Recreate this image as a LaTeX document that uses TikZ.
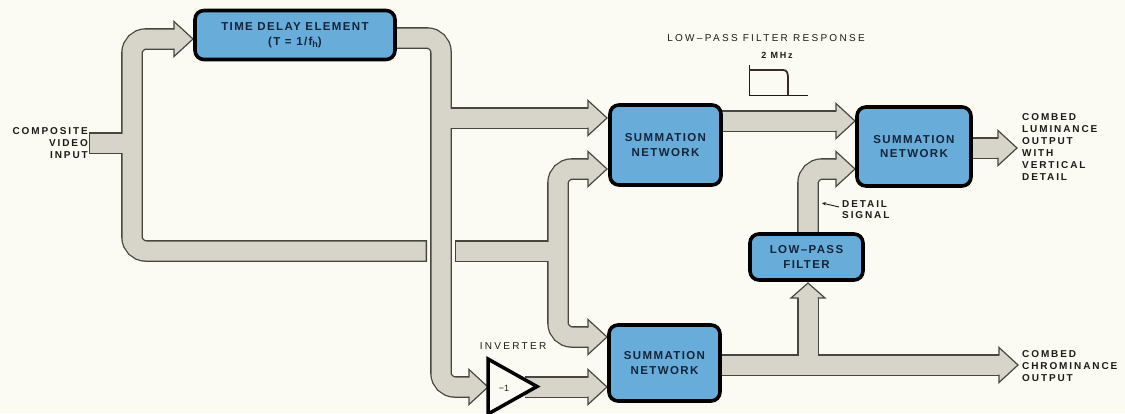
\documentclass[tikz,border=0pt]{standalone}
\usepackage{fontspec}
\setmainfont{Liberation Sans}
\newfontfamily\boxfont[LetterSpace=12]{Liberation Sans}
\newfontfamily\lblfont[LetterSpace=19]{Liberation Sans}
\newfontfamily\thinfont[LetterSpace=23]{Liberation Sans}
\usetikzlibrary{calc,arrows.meta}
\definecolor{bg}{HTML}{FBFBF3}
\definecolor{pipegray}{HTML}{D7D5CA}
\definecolor{pipeline}{HTML}{48473F}
\definecolor{boxblue}{HTML}{68ACDA}
\definecolor{boxtext}{HTML}{14243A}
\definecolor{ink}{HTML}{1E1A18}
\definecolor{resp}{HTML}{3A2A22}
\tikzset{
  pipeo/.style={draw=pipeline, line width=21.6pt, rounded corners=14pt, line cap=butt},
  pipei/.style={draw=pipegray, line width=19pt, rounded corners=14pt, line cap=butt},
  pipeedge/.style={draw=pipeline, line width=1.2pt, line join=miter},
  blockbox/.style={draw=black, line width=3.6pt, fill=boxblue, rounded corners=9pt,
    inner sep=0pt, align=center, text=boxtext,
    font=\boxfont\bfseries\fontsize{11.5}{14.5}\selectfont},
  lbl/.style={inner sep=0pt, text=ink, font=\lblfont\bfseries\fontsize{10}{12}\selectfont},
  lblthin/.style={inner sep=0pt, text=ink, font=\thinfont\fontsize{10}{12}\selectfont},
}
\newcommand\PipeHeadR[1]{%
  \fill[pipegray] ($(#1)+(-19,-17.5)$) -- (#1) -- ($(#1)+(-19,17.5)$) -- cycle;
  \draw[pipeedge] ($(#1)+(-19,-9.5)$) -- ($(#1)+(-19,-17.5)$) -- (#1) -- ($(#1)+(-19,17.5)$) -- ($(#1)+(-19,9.5)$);}
\newcommand\PipeHeadU[1]{%
  \fill[pipegray] ($(#1)+(-17,15)$) -- (#1) -- ($(#1)+(17,15)$) -- cycle;
  \draw[pipeedge] ($(#1)+(-9.5,15)$) -- ($(#1)+(-17,15)$) -- (#1) -- ($(#1)+(17,15)$) -- ($(#1)+(9.5,15)$);}
\begin{document}
\begin{tikzpicture}[x=1pt,y=-1pt]
\useasboundingbox (0,0) rectangle (1125,413);
\fill[bg] (0,0) rectangle (1125,413);

% ---- coordinates ----
\coordinate (inStub) at (89,143);
\coordinate (stubJ) at (132,143);
\coordinate (tdIn) at (193,39);
\coordinate (trunkTop) at (132,39);
\coordinate (trunkBot) at (132,251);
\coordinate (busGapL) at (427,251);
\coordinate (busGapR) at (455,251);
\coordinate (busJ) at (558,251);
\coordinate (tdOut) at (390,38);
\coordinate (p2Top) at (441,38);
\coordinate (p2Br) at (441,118);
\coordinate (p2Bot) at (441,387);
\coordinate (invIn) at (488,387);
\coordinate (invOut) at (525,387);
\coordinate (sn1InA) at (607,118);
\coordinate (sn1InB) at (607,169);
\coordinate (p4Top) at (558,169);
\coordinate (p4Bot) at (558,337);
\coordinate (sn2InA) at (607,337);
\coordinate (sn2InB) at (607,387);
\coordinate (sn1Out) at (715,121);
\coordinate (sn3InA) at (855,121);
\coordinate (sn2Out) at (715,365);
\coordinate (lpfJ) at (808,365);
\coordinate (lpfIn) at (808,283);
\coordinate (chrOut) at (1018,365);
\coordinate (lpfOut) at (808,240);
\coordinate (p9Corner) at (808,169);
\coordinate (sn3InB) at (855,169);
\coordinate (sn3Out) at (965,148);
\coordinate (lumOut) at (1017,148);

% ---- pipe outlines ----
\draw[pipeo] ($(tdIn)+(-17,0)$) -- (trunkTop) -- (trunkBot) -- (busGapL);
\draw[pipeo] (inStub) -- (stubJ);
\draw[pipeo] (tdOut) -- (p2Top) -- (p2Bot) -- ($(invIn)+(-16,0)$);
\draw[pipeo] (p2Br) -- ($(sn1InA)+(-17,0)$);
\draw[pipeo] (busGapR) -- (busJ);
\draw[pipeo] ($(sn1InB)+(-17,0)$) -- (p4Top) -- (p4Bot) -- ($(sn2InA)+(-17,0)$);
\draw[pipeo] (invOut) -- ($(sn2InB)+(-17,0)$);
\draw[pipeo] (sn1Out) -- ($(sn3InA)+(-17,0)$);
\draw[pipeo] (sn2Out) -- ($(chrOut)+(-17,0)$);
\draw[pipeo] (lpfJ) -- ($(lpfIn)+(0,13)$);
\draw[pipeo] (lpfOut) -- (p9Corner) -- ($(sn3InB)+(-17,0)$);
\draw[pipeo] (sn3Out) -- ($(lumOut)+(-17,0)$);
% ---- pipe fills ----
\draw[pipei] ($(tdIn)+(-17,0)$) -- (trunkTop) -- (trunkBot) -- ($(busGapL)+(-1.3,0)$);
\draw[pipei] ($(inStub)+(1.3,0)$) -- (stubJ);
\draw[pipei] (tdOut) -- (p2Top) -- (p2Bot) -- ($(invIn)+(-16,0)$);
\draw[pipei] (p2Br) -- ($(sn1InA)+(-17,0)$);
\draw[pipei] ($(busGapR)+(1.3,0)$) -- (busJ);
\draw[pipei] ($(sn1InB)+(-17,0)$) -- (p4Top) -- (p4Bot) -- ($(sn2InA)+(-17,0)$);
\draw[pipei] (invOut) -- ($(sn2InB)+(-17,0)$);
\draw[pipei] (sn1Out) -- ($(sn3InA)+(-17,0)$);
\draw[pipei] (sn2Out) -- ($(chrOut)+(-17,0)$);
\draw[pipei] (lpfJ) -- ($(lpfIn)+(0,13)$);
\draw[pipei] (lpfOut) -- (p9Corner) -- ($(sn3InB)+(-17,0)$);
\draw[pipei] (sn3Out) -- ($(lumOut)+(-17,0)$);
% ---- arrow heads ----
\PipeHeadR{tdIn}
\PipeHeadR{invIn}
\PipeHeadR{sn1InA}
\PipeHeadR{sn1InB}
\PipeHeadR{sn2InA}
\PipeHeadR{sn2InB}
\PipeHeadR{sn3InA}
\PipeHeadR{sn3InB}
\PipeHeadR{chrOut}
\PipeHeadR{lumOut}
\PipeHeadU{lpfIn}

% ---- blocks ----
\node[blockbox, minimum width=200pt, minimum height=49pt,
      font=\boxfont\bfseries\fontsize{11.5}{15.5}\selectfont] (td) at (295,35)
  {TIME DELAY ELEMENT\\(T = 1/f\raisebox{-2pt}{\fontsize{9}{9}\selectfont h})};
\node[blockbox, minimum width=111pt, minimum height=80pt] (sn1) at (665.5,145) {SUMMATION\\NETWORK};
\node[blockbox, minimum width=111pt, minimum height=76pt] (sn2) at (664.5,363) {SUMMATION\\NETWORK};
\node[blockbox, minimum width=113pt, minimum height=46pt,
      font=\boxfont\bfseries\fontsize{11.5}{15}\selectfont] (lpf) at (806.5,257) {LOW–PASS\\FILTER};
\node[blockbox, minimum width=114pt, minimum height=79pt] (sn3) at (914,146.5) {SUMMATION\\NETWORK};

% ---- inverter ----
\coordinate (invA) at (488,359);
\coordinate (invB) at (537,386.5);
\coordinate (invC) at (488,414);
\draw[draw=black, fill=bg, line width=3.5pt, line join=miter] (invA) -- (invB) -- (invC) -- cycle;
\node[inner sep=0pt, text=ink, font=\fontsize{9}{9}\selectfont] (invtxt) at (504,388) {−1};
\node[lblthin] (invlbl) at (513,346) {INVERTER};

% ---- labels ----
\node[lbl, align=right, anchor=east] (cvin) at (88,143) {COMPOSITE\\VIDEO\\INPUT};
\node[lbl, align=left, anchor=west] (lumlbl) at (1022,147.5)
  {COMBED\\LUMINANCE\\OUTPUT\\WITH\\VERTICAL\\DETAIL};
\node[lbl, align=left, anchor=west] (chrlbl) at (1022,366) {COMBED\\CHROMINANCE\\OUTPUT};
\node[lbl, align=left, anchor=west, font=\lblfont\bfseries\fontsize{10}{11}\selectfont] (detlbl) at (842,210) {DETAIL\\SIGNAL};
\coordinate (detArrowStart) at (839,207);
\coordinate (detArrowEnd) at (822,203);
\draw[ink, line width=0.9pt, -{Stealth[length=4pt,width=3.5pt]}] (detArrowStart) -- (detArrowEnd);

% ---- low-pass response ----
\node[lblthin] (resplbl) at (766,38.5) {LOW–PASS FILTER RESPONSE};
\node[lbl, font=\lblfont\bfseries\fontsize{9}{10}\selectfont] (mhz) at (777,55.5) {2 MHz};
\coordinate (axTop) at (749,65);
\coordinate (axO) at (749,95);
\coordinate (axEnd) at (808,95);
\draw[ink, line width=0.7pt] (axTop) -- (axO) -- (axEnd);
\coordinate (rA) at (749,70);
\coordinate (rB) at (783,70);
\coordinate (rC) at (788,78);
\coordinate (rD) at (788,95);
\draw[resp, line width=1.8pt] (rA) -- (rB) .. controls (787,70) and (788,73) .. (rC) -- (rD);
\end{tikzpicture}
\end{document}
